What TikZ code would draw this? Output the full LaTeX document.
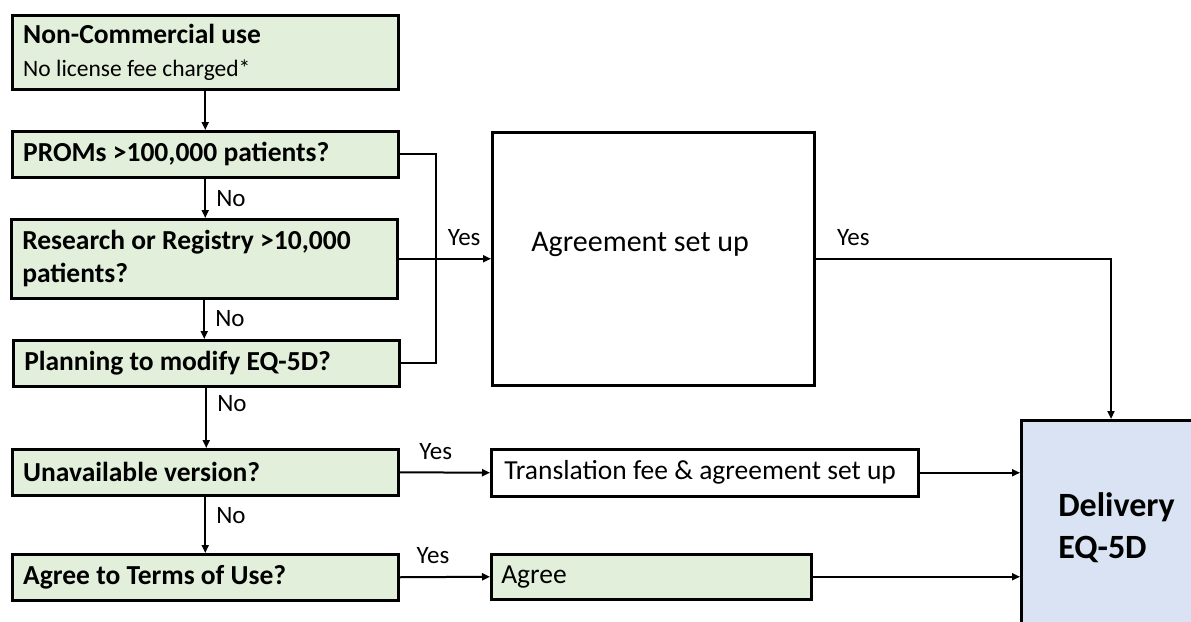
\documentclass[tikz,border=0pt]{standalone}
\usepackage{fontspec}
\setmainfont{Carlito}
\usetikzlibrary{arrows.meta}
\definecolor{qgreen}{HTML}{E2EFDA}
\definecolor{dblue}{HTML}{DAE3F3}

\begin{document}
\begin{tikzpicture}[x=1pt,y=-1pt,line width=2pt,>={Triangle[length=8pt,width=7pt]},
        box/.style={draw,line width=2.5pt,anchor=north west,inner xsep=11pt,inner ysep=0pt,align=flush left},
        qbox/.style={box,fill=qgreen,text width=364pt,minimum height=#1,font=\bfseries\fontsize{27.5}{33}\selectfont},
        qbox/.default=46pt,
        ans/.style={font=\fontsize{25}{30}\selectfont,inner sep=2pt}]
    \useasboundingbox (0,0) rectangle (1191,621);
    \clip (0,0) rectangle (1191,621);
    % questions, top to bottom
    \node[qbox=74pt] (nc) at (11,14) {{\fontsize{27.5}{22}\selectfont Non-Commercial use}\\
        \mdseries\fontsize{23.5}{22.5}\selectfont No license fee charged*};
    \node[qbox] (proms) at (11,130) {PROMs >100,000 patients?};
    \node[qbox=79pt] (reg) at (10,218) {Research or Registry >10,000\\patients?};
    \node[qbox] (mod) at (12,339) {Planning to modify EQ-5D?};
    \node[qbox] (ver) at (11,448) {Unavailable version?};
    \node[qbox] (terms) at (11,553) {Agree to Terms of Use?};
    % outcomes
    \node[box,minimum width=322pt,minimum height=253pt] (agr) at (491,131) {};
    \node[anchor=west,font=\fontsize{30}{36}\selectfont] (agrtxt) at ([xshift=36pt,yshift=14pt]agr.west) {Agreement set up};
    \node[box,text width=401pt,inner xsep=13pt,minimum height=47pt,font=\fontsize{27.5}{33}\selectfont] (trans) at (490,448) {Translation fee \& agreement set up};
    \node[box,fill=qgreen,text width=300pt,inner xsep=10pt,minimum height=45pt,font=\fontsize{27.5}{33}\selectfont] (agree) at (490,553) {Agree};
    \node[box,fill=dblue,text width=130pt,inner xsep=37pt,minimum height=214pt,font=\bfseries\fontsize{34}{42}\selectfont] (del) at (1020,419) {Delivery\\EQ-5D};
    % No branches
    \draw[->] (nc.south) -- (nc.south |- proms.north);
    \draw[->] (proms.south) -- node[ans,right=8pt,pos=.5] (no1) {No} (proms.south |- reg.north);
    \draw[->] (reg.south) -- node[ans,right=8pt,pos=.47] (no2) {No} (reg.south |- mod.north);
    \draw[->] (mod.south) -- node[ans,right=8pt,pos=.27] (no3) {No} (mod.south |- ver.north);
    \draw[->] (ver.south) -- node[ans,right=8pt,pos=.33] (no4) {No} (ver.south |- terms.north);
    % Yes branches
    \draw (proms.east) -- ++(36,0) |- (mod.east);
    \draw[->] (reg.east) -- node[ans,above=10pt,pos=.71] (yes1) {Yes} (agr.west);
    \draw[->] (agr.east) -| node[ans,above=10pt,pos=.064] (yes2) {Yes} ([xshift=91pt]del.north west);
    \draw[->] (ver.east) -- node[ans,above=10pt,pos=.4] (yes3) {Yes} (trans.west);
    \draw[->] (terms.east) -- node[ans,above=10pt,pos=.37] (yes4) {Yes} (agree.west);
    \draw[->] (trans.east) -- (trans.east -| del.west);
    \draw[->] (agree.east) -- (agree.east -| del.west);
\end{tikzpicture}
\end{document}
